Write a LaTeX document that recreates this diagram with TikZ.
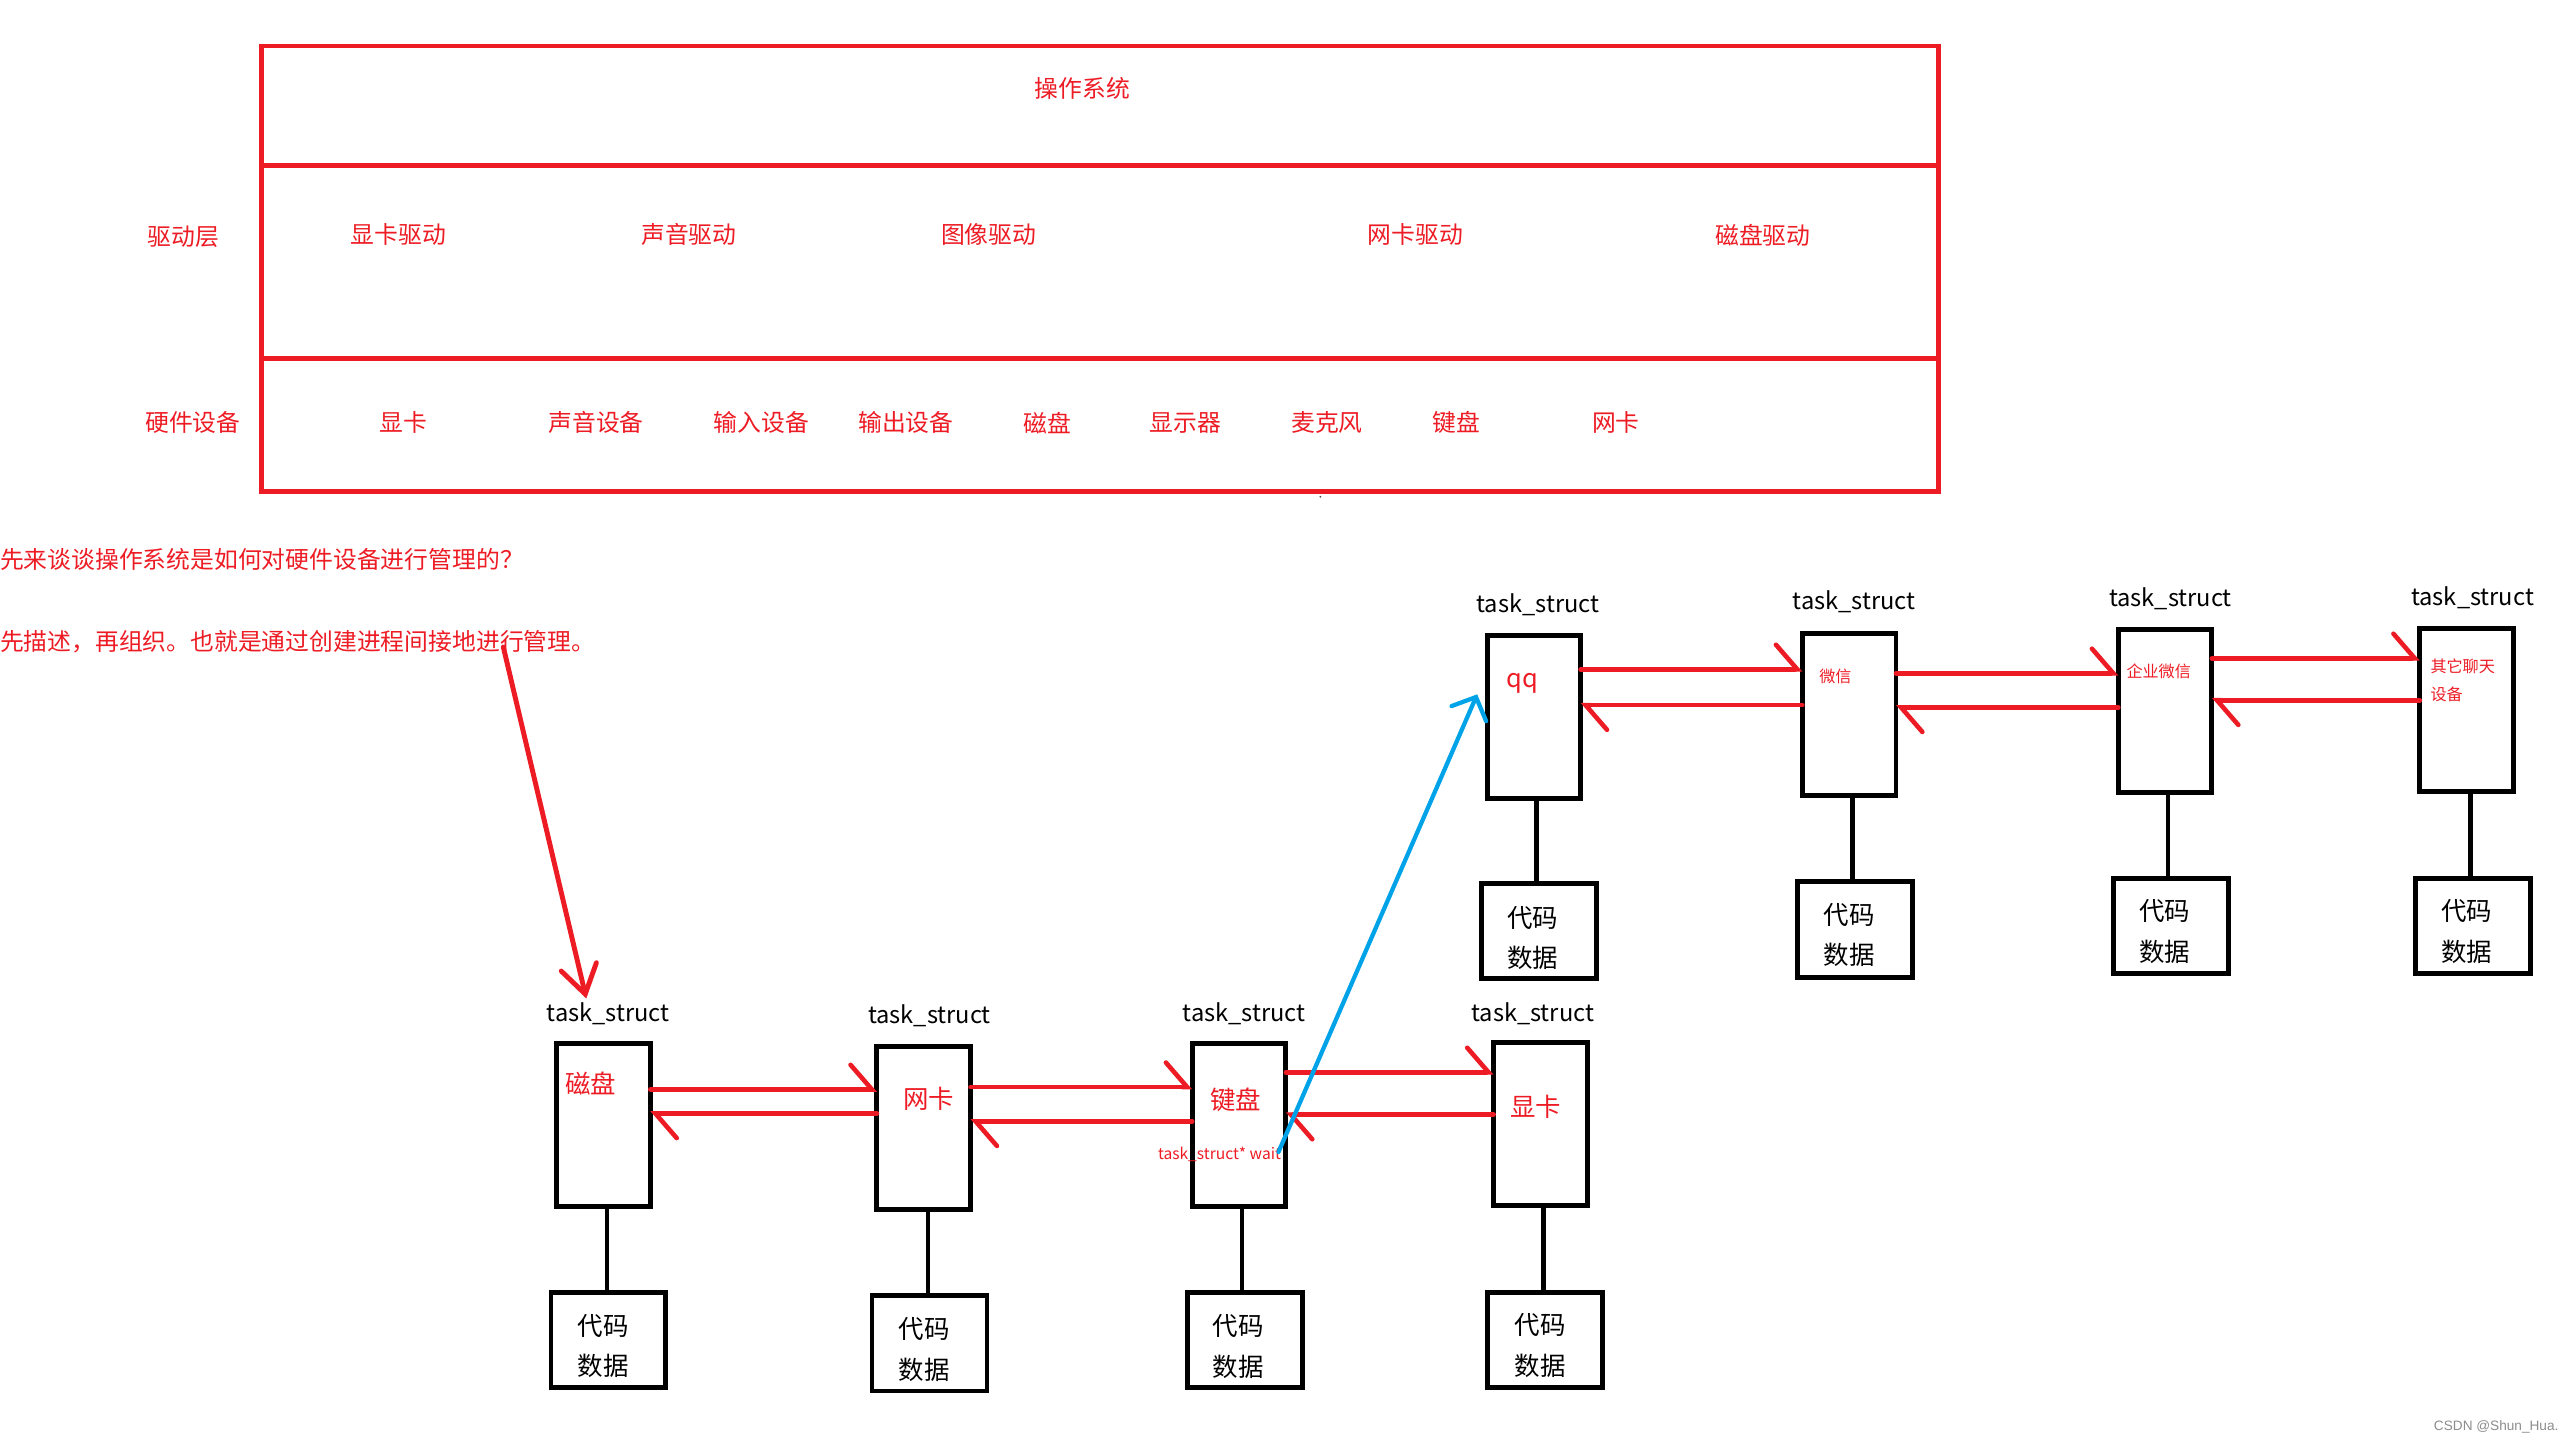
\documentclass[tikz,border=0pt]{standalone}
\usepackage{fontspec}
\setmainfont{Noto Sans CJK SC}
\newfontfamily\wmfont{Liberation Sans}
\usetikzlibrary{arrows.meta}
\definecolor{pred}{RGB}{237,28,36}
\definecolor{pblue}{RGB}{0,162,232}
\begin{document}
\begin{tikzpicture}[x=1pt,y=-1pt,
  every node/.style={inner sep=0pt, outer sep=0pt},
  redtxt/.style={text=pred, font=\fontsize{14.5}{17}\selectfont},
  boxred/.style={text=pred, font=\fontsize{15.5}{18}\selectfont},
  smallred/.style={text=pred, font=\fontsize{9.8}{12}\selectfont},
  waittxt/.style={text=pred, font=\fontsize{9.5}{12}\selectfont},
  tslabel/.style={text=black, font=\fontsize{14.4}{17}\selectfont},
  codetxt/.style={text=black, font=\fontsize{15.5}{18}\selectfont},
  procbox/.style={draw=black, line width=3pt, minimum width=57pt, minimum height=99pt},
  codebox/.style={draw=black, line width=3pt, minimum width=70pt, minimum height=58pt},
  stem/.style={draw=black, line width=2.6pt},
  link/.style={draw=pred, line width=2.8pt, line cap=round,
    -{Straight Barb[left, length=13pt, width=30pt, line cap=round]}},
  framebox/.style={draw=pred, line width=3pt},
]
\useasboundingbox (0,0) rectangle (1568,879);

% ---------- top frame ----------
\node[framebox, minimum width=1021pt, minimum height=271pt] (frame) at (669.75,163.5) {};
\draw[framebox] (frame.west |- 0,101) -- (frame.east |- 0,101);
\draw[framebox] (frame.west |- 0,218.5) -- (frame.east |- 0,218.5);

\node[redtxt] (os) at (659,54) {操作系统};
\node[redtxt] (drvlayer) at (111.5,144) {驱动层};
\node[redtxt] (d1) at (242.5,143) {显卡驱动};
\node[redtxt] (d2) at (419.5,143) {声音驱动};
\node[redtxt] (d3) at (602,143) {图像驱动};
\node[redtxt] (d4) at (862,143) {网卡驱动};
\node[redtxt] (d5) at (1073.5,143) {磁盘驱动};

\node[redtxt] (hwlayer) at (117.5,257.5) {硬件设备};
\node[redtxt] (h1) at (245.5,257.5) {显卡};
\node[redtxt] (h2) at (363,257.5) {声音设备};
\node[redtxt] (h3) at (463.7,257.5) {输入设备};
\node[redtxt] (h4) at (551.6,257.5) {输出设备};
\node[redtxt] (h5) at (637.8,257.5) {磁盘};
\node[redtxt] (h6) at (722,257.5) {显示器};
\node[redtxt] (h7) at (808,257.5) {麦克风};
\node[redtxt] (h8) at (887,257.5) {键盘};
\node[redtxt] (h9) at (984,257.5) {网卡};
\fill[black!70] (804,302.5) circle (0.6pt);

% ---------- text ----------
\node[redtxt, anchor=west] (q1) at (0,340.5) {先来谈谈操作系统是如何对硬件设备进行管理的？};
\node[redtxt, anchor=west] (q2) at (0,391) {先描述，再组织。也就是通过创建进程间接地进行管理。};

% ---------- bottom row ----------
\node[procbox] (P1) at (367.5,685) {};
\node[procbox] (P2) at (562.5,687) {};
\node[procbox] (P3) at (754.5,685) {};
\node[procbox] (P4) at (938,684.5) {};

\node[codebox] (C1) at (370.5,816) {};
\node[codebox] (C2) at (566,818) {};
\node[codebox] (C3) at (758,816) {};
\node[codebox] (C4) at (941,816) {};

\node[tslabel] (T1) at (370.3,617) {task\_struct};
\node[tslabel] (T2) at (566,618.8) {task\_struct};
\node[tslabel] (T3) at (757.6,617) {task\_struct};
\node[tslabel] (T4) at (933.3,617) {task\_struct};

\node[boxred] (n1) at (359.7,659.6) {磁盘};
\node[boxred] (n2) at (565.6,668.8) {网卡};
\node[boxred] (n3) at (752.6,669.5) {键盘};
\node[boxred] (n4) at (935,674) {显卡};
\node[waittxt] (wait) at (742.6,703) {task\_struct* wait};

\node[codetxt] (c1a) at (367.2,807.6) {代码};
\node[codetxt] (c1b) at (367.2,832) {数据};
\node[codetxt] (c2a) at (562.8,809.5) {代码};
\node[codetxt] (c2b) at (562.8,834) {数据};
\node[codetxt] (c3a) at (754,807.6) {代码};
\node[codetxt] (c3b) at (754,832.3) {数据};
\node[codetxt] (c4a) at (938,807) {代码};
\node[codetxt] (c4b) at (938,832) {数据};

\draw[stem] (P1.south -| 369.5,0) -- (C1.north -| 369.5,0);
\draw[stem] (P2.south -| 565,0) -- (C2.north -| 565,0);
\draw[stem] (P3.south -| 756.5,0) -- (C3.north -| 756.5,0);
\draw[stem] (P4.south -| 939.8,0) -- (C4.north -| 939.8,0);

\draw[link] (P1.east |- 0,663.4) -- (P2.west |- 0,663.4);
\draw[link] (P2.west |- 0,678) -- (P1.east |- 0,678);
\draw[link] (P2.east |- 0,662) -- (P3.west |- 0,662);
\draw[link] (P3.west |- 0,682.8) -- (P2.east |- 0,682.8);
\draw[link] (P3.east |- 0,653) -- (P4.west |- 0,653);
\draw[link] (P4.west |- 0,678.7) -- (P3.east |- 0,678.7);

% ---------- top row ----------
\node[procbox] (Q1) at (934,436.5) {};
\node[procbox] (Q2) at (1126,435) {};
\node[procbox] (Q3) at (1318.4,433) {};
\node[procbox] (Q4) at (1502,432.4) {};

\node[codebox] (D1) at (937,567) {};
\node[codebox] (D2) at (1129.3,566) {};
\node[codebox] (D3) at (1322,564) {};
\node[codebox] (D4) at (1506,563.7) {};

\node[tslabel] (U1) at (936.5,368) {task\_struct};
\node[tslabel] (U2) at (1129,366.4) {task\_struct};
\node[tslabel] (U3) at (1321.6,364.8) {task\_struct};
\node[tslabel] (U4) at (1505.6,364) {task\_struct};

\node[boxred] (m1) at (927,416) {qq};
\node[smallred] (m2) at (1117.6,411.7) {微信};
\node[smallred] (m3) at (1314.5,408.5) {企业微信};
\node[smallred, anchor=west] (m4a) at (1480,406) {其它聊天};
\node[smallred, anchor=west] (m4b) at (1480,422.6) {设备};

\node[codetxt] (d1a) at (933.4,559) {代码};
\node[codetxt] (d1b) at (933.4,583.5) {数据};
\node[codetxt] (d2a) at (1126,557) {代码};
\node[codetxt] (d2b) at (1126,581.6) {数据};
\node[codetxt] (d3a) at (1318,555) {代码};
\node[codetxt] (d3b) at (1318,579.6) {数据};
\node[codetxt] (d4a) at (1502,554.6) {代码};
\node[codetxt] (d4b) at (1502,579.6) {数据};

\draw[stem] (Q1.south -| 935.6,0) -- (D1.north -| 935.6,0);
\draw[stem] (Q2.south -| 1128,0) -- (D2.north -| 1128,0);
\draw[stem] (Q3.south -| 1320.3,0) -- (D3.north -| 1320.3,0);
\draw[stem] (Q4.south -| 1504.3,0) -- (D4.north -| 1504.3,0);

\draw[link] (Q1.east |- 0,407.6) -- (Q2.west |- 0,407.6);
\draw[link] (Q2.west |- 0,429.4) -- (Q1.east |- 0,429.4);
\draw[link] (Q2.east |- 0,410) -- (Q3.west |- 0,410);
\draw[link] (Q3.west |- 0,430.7) -- (Q2.east |- 0,430.7);
\draw[link] (Q3.east |- 0,400.9) -- (Q4.west |- 0,400.9);
\draw[link] (Q4.west |- 0,426.4) -- (Q3.east |- 0,426.4);

% ---------- pointer arrows ----------
\coordinate (redstart) at (306.5,394);
\coordinate (redtip) at (357,608);
\draw[draw=pred, line width=3pt, line cap=round,
  -{Straight Barb[length=17pt, width=22pt, line cap=round]}] (redstart) -- (redtip);

\coordinate (bluestart) at (778.5,701.5);
\coordinate (bluetip) at (899.5,422.8);
\draw[draw=pblue, line width=2.6pt, line cap=round,
  -{Straight Barb[length=11pt, width=23pt, line cap=round]}] (bluestart) -- (bluetip);

% ---------- watermark ----------
\node[text=black!45, font=\wmfont\fontsize{8.3}{10}\selectfont] (wm) at (1520,869) {CSDN @Shun\_Hua.};
\end{tikzpicture}
\end{document}
